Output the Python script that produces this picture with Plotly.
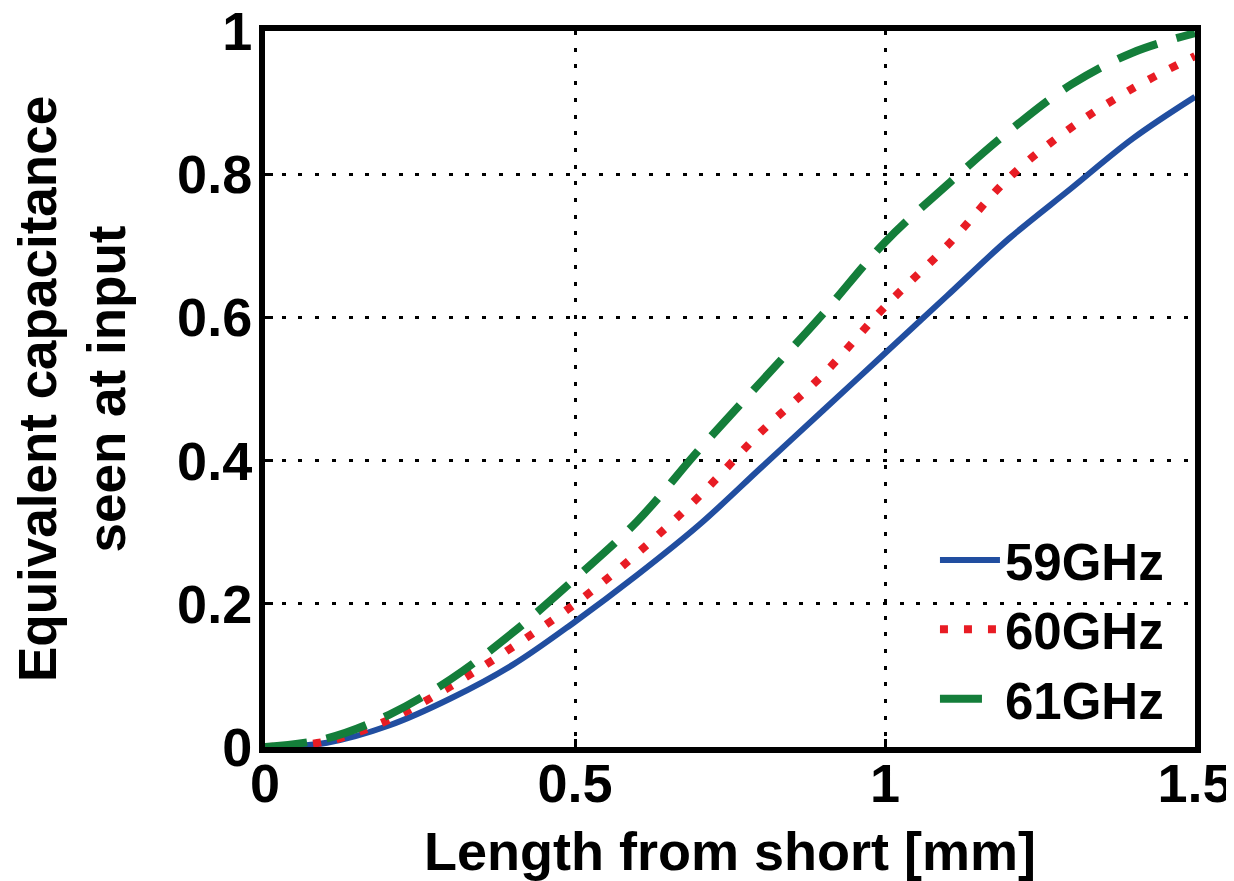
import plotly.graph_objects as go

length_mm = [0.0, 0.1, 0.2, 0.3, 0.4, 0.5, 0.6, 0.7, 0.8, 0.9, 1.0, 1.1, 1.2, 1.3, 1.4, 1.5]
cap_59 = [0.0, 0.006, 0.03, 0.068, 0.115, 0.175, 0.24, 0.31, 0.39, 0.47, 0.55, 0.63, 0.71, 0.78, 0.85, 0.908]
cap_60 = [0.0, 0.008, 0.038, 0.085, 0.14, 0.2, 0.27, 0.35, 0.44, 0.52, 0.615, 0.70, 0.795, 0.865, 0.92, 0.965]
cap_61 = [0.0, 0.012, 0.045, 0.095, 0.16, 0.235, 0.315, 0.415, 0.51, 0.605, 0.705, 0.785, 0.86, 0.925, 0.97, 0.997]

series_names = ["59GHz", "60GHz", "61GHz"]
x_ticks = [0, 0.5, 1, 1.5]
x_tick_text = ["0", "0.5", "1", "1.5"]
y_ticks = [0, 0.2, 0.4, 0.6, 0.8, 1]
y_tick_text = ["0", "0.2", "0.4", "0.6", "0.8", "1"]

FONT = "Liberation Sans, Arial, sans-serif"

fig = go.Figure()
fig.add_trace(go.Scatter(x=length_mm, y=cap_59, name=series_names[0], mode="lines",
                         line=dict(color="rgb(33,78,160)", width=6, shape="spline")))
fig.add_trace(go.Scatter(x=length_mm, y=cap_60, name=series_names[1], mode="lines",
                         line=dict(color="rgb(232,28,36)", width=8, dash="8px,16px", shape="spline")))
fig.add_trace(go.Scatter(x=length_mm, y=cap_61, name=series_names[2], mode="lines",
                         line=dict(color="rgb(20,126,58)", width=8, dash="42px,20px", shape="spline")))

axis_common = dict(
    showline=True, mirror=True, linecolor="black", linewidth=6,
    showgrid=True, gridcolor="black", gridwidth=3, griddash="4px,12.7px",
    ticks="inside", ticklen=8, tickwidth=3, tickcolor="black",
    zeroline=False, ticklabeloverflow="allow", automargin=False,
    tickfont=dict(family=FONT, size=54, color="black", weight="bold"),
)

fig.update_xaxes(range=[0, 1.5], tickvals=x_ticks, ticktext=x_tick_text,
                 ticklabelstandoff=-16,
                 title=dict(text="Length from short [mm]", standoff=24,
                            font=dict(family=FONT, size=54, color="black", weight="bold")),
                 **axis_common)
fig.update_yaxes(range=[0, 1], tickvals=y_ticks, ticktext=y_tick_text,
                 ticklabelstandoff=-4,
                 title=dict(text="Equivalent capacitance<br>seen at input", standoff=46,
                            font=dict(family=FONT, size=53, color="black", weight="bold")),
                 **axis_common)

fig.update_layout(
    width=1226, height=873, autosize=False,
    margin=dict(l=257, r=39, t=23, b=134),
    paper_bgcolor="white", plot_bgcolor="white",
    showlegend=True,
    legend=dict(x=0.972, xanchor="right", y=0.012, yanchor="bottom",
                bgcolor="rgba(0,0,0,0)", borderwidth=0, tracegroupgap=0,
                itemwidth=60,
                font=dict(family=FONT, size=51, color="black", weight="bold")),
)

fig.write_html("out.html")
